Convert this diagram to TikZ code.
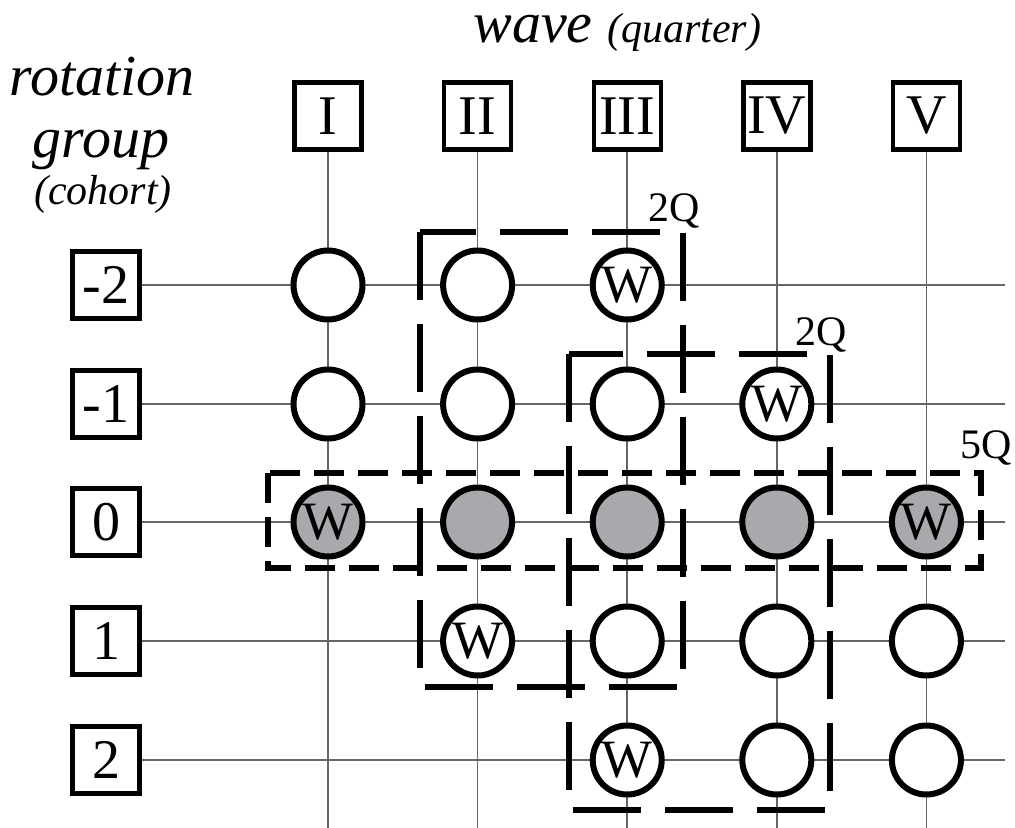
\documentclass[tikz,border=0pt]{standalone}
\usepackage{fontspec}
\setmainfont{Liberation Serif}
\definecolor{dotgray}{RGB}{167,169,172}
\tikzstyle{every node}=[inner sep=0pt]
\tikzstyle{labelbox}=[draw=black, line width=2.2pt, fill=white, minimum size=33.5pt, font=\fontsize{28}{30}\selectfont]
\tikzstyle{spot}=[circle, draw=black, line width=3pt, fill=white, minimum size=34.5pt, font=\fontsize{27}{29}\selectfont]
\tikzstyle{shaded}=[fill=dotgray]
\tikzstyle{gridline}=[black!60, line width=0.75pt]
\tikzstyle{span}=[line width=3pt, dash pattern=on 34pt off 12pt]
\tikzstyle{spanshort}=[line width=3pt, dash pattern=on 15pt off 7pt]
\tikzstyle{bigit}=[font=\fontsize{29}{31}\selectfont\itshape, anchor=base]
\tikzstyle{smallit}=[font=\fontsize{21}{23}\selectfont\itshape, anchor=base]
\tikzstyle{qlabel}=[font=\fontsize{21}{23}\selectfont, anchor=base]

\begin{document}
\begin{tikzpicture}[x=0.5pt, y=-0.5pt]
  \useasboundingbox (0,0) rectangle (1015,828);

  % titles
  \node [anchor=base west, font=\fontsize{29}{31}\selectfont\itshape] (wave) at (473,43)
        {wave {\fontsize{21}{23}\selectfont (quarter)}};
  \node [bigit] (rot) at (102,96) {rotation};
  \node [bigit] (grp) at (101,158) {group};
  \node [smallit] (coh) at (103,205) {(cohort)};

  % waves
  \node [labelbox] (wI)   at (328,116)   {I};
  \node [labelbox] (wII)  at (477.6,116) {II};
  \node [labelbox] (wIII) at (627.2,116) {III};
  \node [labelbox] (wIV)  at (776.8,116) {IV};
  \node [labelbox] (wV)   at (926.4,116) {V};

  % rotation groups
  \node [labelbox] (gm2) at (106,285) {-2};
  \node [labelbox] (gm1) at (106,404) {-1};
  \node [labelbox] (g0)  at (106,522) {0};
  \node [labelbox] (g1)  at (106,641) {1};
  \node [labelbox] (g2)  at (106,760) {2};

  % free ends of the grid
  \coordinate (eI)   at (328,828);
  \coordinate (eII)  at (477.6,828);
  \coordinate (eIII) at (627.2,828);
  \coordinate (eIV)  at (776.8,828);
  \coordinate (eV)   at (926.4,828);
  \coordinate (em2) at (1005,285);
  \coordinate (em1) at (1005,404);
  \coordinate (e0)  at (1005,522);
  \coordinate (e1)  at (1005,641);
  \coordinate (e2)  at (1005,760);

  \draw [gridline] (wI.south) -- (eI);
  \draw [gridline] (wII.south) -- (eII);
  \draw [gridline] (wIII.south) -- (eIII);
  \draw [gridline] (wIV.south) -- (eIV);
  \draw [gridline] (wV.south) -- (eV);
  \draw [gridline] (gm2.east) -- (em2);
  \draw [gridline] (gm1.east) -- (em1);
  \draw [gridline] (g0.east) -- (e0);
  \draw [gridline] (g1.east) -- (e1);
  \draw [gridline] (g2.east) -- (e2);

  % interviews
  \node [spot] (m2I)   at (328,285)   {};
  \node [spot] (m2II)  at (477.6,285) {};
  \node [spot] (m2III) at (627.2,285) {W};

  \node [spot] (m1I)   at (328,404)   {};
  \node [spot] (m1II)  at (477.6,404) {};
  \node [spot] (m1III) at (627.2,404) {};
  \node [spot] (m1IV)  at (776.8,404) {W};

  \node [spot, shaded] (zI)   at (328,522)   {W};
  \node [spot, shaded] (zII)  at (477.6,522) {};
  \node [spot, shaded] (zIII) at (627.2,522) {};
  \node [spot, shaded] (zIV)  at (776.8,522) {};
  \node [spot, shaded] (zV)   at (926.4,522) {W};

  \node [spot] (p1II)  at (477.6,641) {W};
  \node [spot] (p1III) at (627.2,641) {};
  \node [spot] (p1IV)  at (776.8,641) {};
  \node [spot] (p1V)   at (926.4,641) {};

  \node [spot] (p2III) at (627.2,760) {W};
  \node [spot] (p2IV)  at (776.8,760) {};
  \node [spot] (p2V)   at (926.4,760) {};

  % panels
  \draw [span] (420,232) rectangle (683,687);
  \draw [span] (569,354) rectangle (830,810);
  \draw [spanshort] (268,473) rectangle (981,568);
  \node [qlabel] (qa) at (674,222) {2Q};
  \node [qlabel] (qb) at (821,345) {2Q};
  \node [qlabel] (qc) at (986,458) {5Q};
\end{tikzpicture}
\end{document}
